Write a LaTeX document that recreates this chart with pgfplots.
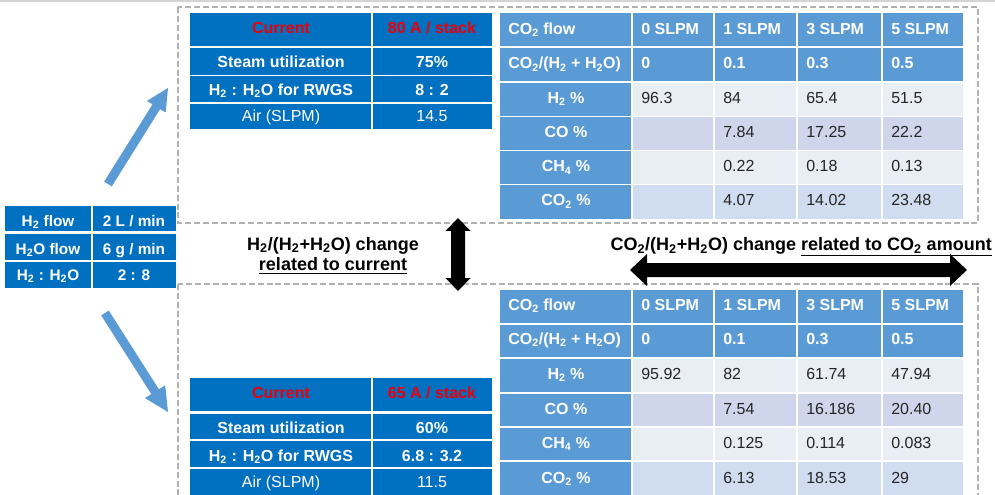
\documentclass[border=0pt]{standalone}
\usepackage{pgfplots}
\pgfplotsset{compat=1.18}
\usepackage{fontspec}
\setmainfont{Liberation Sans}
\definecolor{dblue}{RGB}{0,112,192}
\definecolor{mblue}{RGB}{91,155,213}
\definecolor{lA}{RGB}{233,237,244}
\definecolor{lB}{RGB}{207,213,234}
\definecolor{lC}{RGB}{208,220,239}
\definecolor{dgray}{RGB}{178,178,178}
\definecolor{tgray}{RGB}{212,212,212}
\definecolor{txt}{RGB}{38,38,38}
\definecolor{cred}{RGB}{235,0,10}
\newcommand\sub[1]{\textsubscript{#1}}
\newcommand\fs{\fontsize{12}{14}\selectfont}
\newcommand\cell[5]{\fill[#5] (axis cs:#1,#3) rectangle (axis cs:#2,#4);}
% centred label: [opts]{x}{baseline y}{text}
\newcommand\lab[4][]{\node[anchor=base,inner sep=0pt,font=\fs\bfseries,text=white,#1] at (axis cs:#2,#3) {#4};}
% left label
\newcommand\hl[3]{\node[anchor=base west,inner sep=0pt,font=\fs\bfseries,text=white] at (axis cs:#1,#2) {#3};}
% composition-table row: y1 y2 firstcolour restcolour
\newcommand\crow[4]{\cell{500}{631}{#1}{#2}{#3}\cell{633}{713}{#1}{#2}{#4}\cell{715}{796}{#1}{#2}{#4}\cell{798}{881}{#1}{#2}{#4}\cell{883}{963}{#1}{#2}{#4}}
\begin{document}
\begin{tikzpicture}
\begin{axis}[
  scale only axis, width=746.25pt, height=371.25pt,
  xmin=0, xmax=995, ymin=0, ymax=495, y dir=reverse,
  axis lines=none, xtick=\empty, ytick=\empty, clip=true,
]
\fill[white] (axis cs:0,0) rectangle (axis cs:995,495);
\draw[tgray, line width=1.2pt] (axis cs:0,1) -- (axis cs:995,1);
% dashed boxes
\draw[dgray, line width=1.1pt, dash pattern=on 4.5pt off 2.2pt] (axis cs:178,7) rectangle (axis cs:978,223);
\draw[dgray, line width=1.1pt, dash pattern=on 4.5pt off 2.2pt] (axis cs:178,284) rectangle (axis cs:978,505);

% ---------- left table ----------
\cell{5}{91}{206}{231}{dblue}\cell{92.5}{176}{206}{231}{dblue}
\cell{5}{91}{234}{260}{dblue}\cell{92.5}{176}{234}{260}{dblue}
\cell{5}{91}{262}{288}{dblue}\cell{92.5}{176}{262}{288}{dblue}
\lab[font=\fontsize{11.5}{13}\selectfont\bfseries]{48}{226.5}{H\sub2 flow}
\lab[font=\fontsize{11.5}{13}\selectfont\bfseries]{134}{226.5}{2 L / min}
\lab[font=\fontsize{11.5}{13}\selectfont\bfseries]{48}{254}{H\sub2O flow}
\lab[font=\fontsize{11.5}{13}\selectfont\bfseries]{134}{254}{6 g / min}
\lab[font=\fontsize{11.5}{13}\selectfont\bfseries]{48}{280.5}{H\sub2 : H\sub2O}
\lab[font=\fontsize{11.5}{13}\selectfont\bfseries]{134}{280.5}{2 : 8}

% ---------- upper current table ----------
\cell{190}{371}{13}{46.5}{dblue}\cell{373}{492}{13}{46.5}{dblue}
\cell{190}{371}{48.5}{75}{dblue}\cell{373}{492}{48.5}{75}{dblue}
\cell{190}{371}{76.5}{102.5}{dblue}\cell{373}{492}{76.5}{102.5}{dblue}
\cell{190}{371}{104}{129.5}{dblue}\cell{373}{492}{104}{129.5}{dblue}
\lab[text=cred]{281}{34}{Current}
\lab[text=cred]{432}{34}{80 A / stack}
\lab{281}{68}{Steam utilization}
\lab{432}{68}{75\%}
\lab{281}{95.5}{H\sub2 : H\sub2O for RWGS}
\lab{432}{95.5}{8 : 2}
\lab[font=\fs]{281}{122}{Air (SLPM)}
\lab[font=\fs]{432}{122}{14.5}

% ---------- lower current table ----------
\cell{190}{371}{378}{411}{dblue}\cell{373}{492}{378}{411}{dblue}
\cell{190}{371}{413.5}{439}{dblue}\cell{373}{492}{413.5}{439}{dblue}
\cell{190}{371}{441}{467}{dblue}\cell{373}{492}{441}{467}{dblue}
\cell{190}{371}{469}{496}{dblue}\cell{373}{492}{469}{496}{dblue}
\lab[text=cred]{281}{398.5}{Current}
\lab[text=cred]{432}{398.5}{65 A / stack}
\lab{281}{433}{Steam utilization}
\lab{432}{433}{60\%}
\lab{281}{461}{H\sub2 : H\sub2O for RWGS}
\lab{432}{461}{6.8 : 3.2}
\lab[font=\fs]{281}{487.5}{Air (SLPM)}
\lab[font=\fs]{432}{487.5}{11.5}

% ---------- upper composition table ----------
\crow{13}{46.5}{mblue}{mblue}
\crow{48.5}{81}{mblue}{mblue}
\crow{83}{116}{mblue}{lA}
\crow{117.5}{150}{mblue}{lB}
\crow{151.5}{184}{mblue}{lA}
\crow{185.5}{219}{mblue}{lC}
\hl{508}{34.5}{CO\sub2 flow}\hl{641}{34.5}{0 SLPM}\hl{723}{34.5}{1 SLPM}\hl{806}{34.5}{3 SLPM}\hl{891}{34.5}{5 SLPM}
\hl{508}{69}{CO\sub2/(H\sub2 + H\sub2O)}\hl{641}{69}{0}\hl{723}{69}{0.1}\hl{806}{69}{0.3}\hl{891}{69}{0.5}
\lab{566}{103.5}{H\sub2 \%}
\lab{566}{138}{CO \%}
\lab{566}{172}{CH\sub4 \%}
\lab{566}{206}{CO\sub2 \%}
\addplot[only marks, mark=none, nodes near coords, point meta=explicit symbolic,
  every node near coord/.append style={anchor=base west, inner sep=0pt, font=\fs, text=txt}]
  coordinates {
  (641,103.5)[96.3] (723,103.5)[84] (806,103.5)[65.4] (891,103.5)[51.5]
  (723,138)[7.84] (806,138)[17.25] (891,138)[22.2]
  (723,172)[0.22] (806,172)[0.18] (891,172)[0.13]
  (723,206)[4.07] (806,206)[14.02] (891,206)[23.48]
  };

% ---------- lower composition table ----------
\crow{290}{322.5}{mblue}{mblue}
\crow{324.5}{356.5}{mblue}{mblue}
\crow{358.5}{392}{mblue}{lA}
\crow{394}{426}{mblue}{lB}
\crow{428}{460}{mblue}{lA}
\crow{462}{496}{mblue}{lC}
\hl{508}{310.5}{CO\sub2 flow}\hl{641}{310.5}{0 SLPM}\hl{723}{310.5}{1 SLPM}\hl{806}{310.5}{3 SLPM}\hl{891}{310.5}{5 SLPM}
\hl{508}{344.5}{CO\sub2/(H\sub2 + H\sub2O)}\hl{641}{344.5}{0}\hl{723}{344.5}{0.1}\hl{806}{344.5}{0.3}\hl{891}{344.5}{0.5}
\lab{566}{379}{H\sub2 \%}
\lab{566}{414}{CO \%}
\lab{566}{448}{CH\sub4 \%}
\lab{566}{483}{CO\sub2 \%}
\addplot[only marks, mark=none, nodes near coords, point meta=explicit symbolic,
  every node near coord/.append style={anchor=base west, inner sep=0pt, font=\fs, text=txt}]
  coordinates {
  (641,379)[95.92] (723,379)[82] (806,379)[61.74] (891,379)[47.94]
  (723,414)[7.54] (806,414)[16.186] (891,414)[20.40]
  (723,448)[0.125] (806,448)[0.114] (891,448)[0.083]
  (723,483)[6.13] (806,483)[18.53] (891,483)[29]
  };

% ---------- arrows ----------
\fill[mblue] (axis cs:111.8,186.4) -- (axis cs:160.1,109.1) -- (axis cs:165.7,112.5) -- (axis cs:168,88) -- (axis cs:147.0,100.9) -- (axis cs:152.5,104.3) -- (axis cs:104.2,181.6) -- cycle;
\fill[mblue] (axis cs:101.2,315.4) -- (axis cs:151.3,394.1) -- (axis cs:145.0,398.1) -- (axis cs:168,412) -- (axis cs:165.2,385.3) -- (axis cs:158.9,389.3) -- (axis cs:108.8,310.6) -- cycle;
\fill[black] (axis cs:458,218) -- (axis cs:470.5,231) -- (axis cs:465,231) -- (axis cs:465,278) -- (axis cs:470.5,278) -- (axis cs:458,291) -- (axis cs:445.5,278) -- (axis cs:451,278) -- (axis cs:451,231) -- (axis cs:445.5,231) -- cycle;
\fill[black] (axis cs:630,270) -- (axis cs:647,254) -- (axis cs:647,263) -- (axis cs:950,263) -- (axis cs:950,254) -- (axis cs:967,270) -- (axis cs:950,286) -- (axis cs:950,277) -- (axis cs:647,277) -- (axis cs:647,286) -- cycle;

% ---------- middle captions ----------
\node[anchor=base, inner sep=0pt, font=\fontsize{13.5}{16}\selectfont\bfseries] at (axis cs:333,250) {H\sub2/(H\sub2+H\sub2O) change};
\node[anchor=base, inner sep=0pt, font=\fontsize{13.5}{16}\selectfont\bfseries] at (axis cs:333,271) {\underline{related to current}};
\node[anchor=base east, inner sep=0pt, font=\fontsize{13.5}{16}\selectfont\bfseries] at (axis cs:992,251) {CO\sub2/(H\sub2+H\sub2O) change \underline{related to CO\sub2 amount}};
\end{axis}
\end{tikzpicture}
\end{document}
